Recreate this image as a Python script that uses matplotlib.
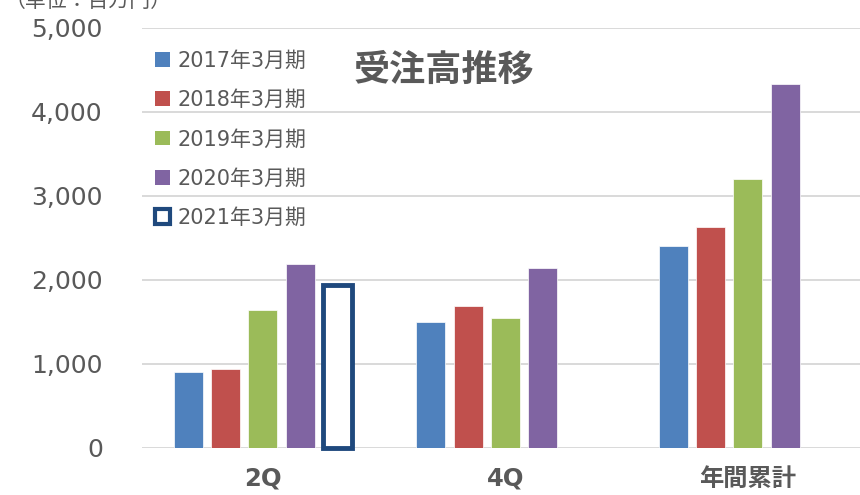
import numpy as np
import matplotlib
matplotlib.use("Agg")
import matplotlib.pyplot as plt
from matplotlib.patches import Patch

# 受注高 (単位：百万円)
categories = ["2Q", "4Q", "年間累計"]
series_names = ["2017年3月期", "2018年3月期", "2019年3月期", "2020年3月期", "2021年3月期"]
fy2017 = [895, 1494, 2395]
fy2018 = [934, 1681, 2621]
fy2019 = [1640, 1542, 3193]
fy2020 = [2185, 2140, 4331]
fy2021 = [1940]  # 2Q only

colors = ["#4F81BD", "#C0504D", "#9BBB59", "#8064A2"]
outline_color = "#1F497D"
text_color = "#595959"
grid_color = "#D9D9D9"

plt.rcParams["font.family"] = ["DejaVu Sans", "Noto Sans CJK JP"]


def main():
    fig = plt.figure(figsize=(8.6, 4.95), dpi=100)
    ax = fig.add_axes([141.7 / 860, 47.5 / 495, 727.5 / 860, 419.8 / 495])

    x = np.arange(len(categories))
    pitch = 0.154
    width = 0.12

    filled = [fy2017, fy2018, fy2019, fy2020]
    for i, vals in enumerate(filled):
        ax.bar(x[:len(vals)] + (i - 2) * pitch, vals, width=width,
               color=colors[i], edgecolor="white", linewidth=0.5, zorder=3)
    # 2021 only has the first half, drawn as an outline
    ax.bar(x[:len(fy2021)] + 2 * pitch, fy2021, width=width,
           facecolor="white", edgecolor=outline_color, linewidth=3.5,
           zorder=3, clip_on=False)

    ax.set_xlim(-0.5, 2.5)
    ax.set_ylim(0, 5000)
    ax.set_yticks(range(0, 5001, 1000))
    ax.set_yticklabels([f"{v:,}" for v in range(0, 5001, 1000)])
    ax.set_xticks(x)
    ax.set_xticklabels(categories, fontweight="bold")
    ax.tick_params(axis="y", length=0, pad=28, labelsize=18, labelcolor=text_color)
    ax.tick_params(axis="x", length=0, pad=14, labelsize=17.5, labelcolor=text_color)
    for s in ax.spines.values():
        s.set_visible(False)
    ax.yaxis.grid(True, color=grid_color, linewidth=1.4, zorder=0)
    ax.set_axisbelow(True)

    handles = [Patch(facecolor=c, edgecolor="none") for c in colors]
    handles.append(Patch(facecolor="white", edgecolor=outline_color, linewidth=3))
    leg = ax.legend(handles, series_names, loc="upper left",
                    bbox_to_anchor=(155 / 860, 1 - 51 / 495),
                    bbox_transform=fig.transFigure,
                    frameon=False, fontsize=15, handlelength=0.72,
                    handleheight=0.72, handletextpad=0.35,
                    labelspacing=0.92, borderpad=0, borderaxespad=0)
    for t in leg.get_texts():
        t.set_color(text_color)

    fig.text(444 / 860, 1 - 70 / 495, "受注高推移", ha="center", va="center",
             fontsize=26, fontweight="bold", color=text_color,
             family=["Noto Sans CJK JP", "DejaVu Sans"])
    # the unit note is partly cut off by the top edge in the original
    fig.text(5 / 860, 1 - 7 / 495, "（単位：百万円）", ha="left", va="baseline",
             fontsize=15, color=text_color,
             family=["Noto Sans CJK JP", "DejaVu Sans"])

    fig.savefig("out.png", dpi=100)
    return 0


if __name__ == "__main__":
    import sys
    sys.exit(main())
